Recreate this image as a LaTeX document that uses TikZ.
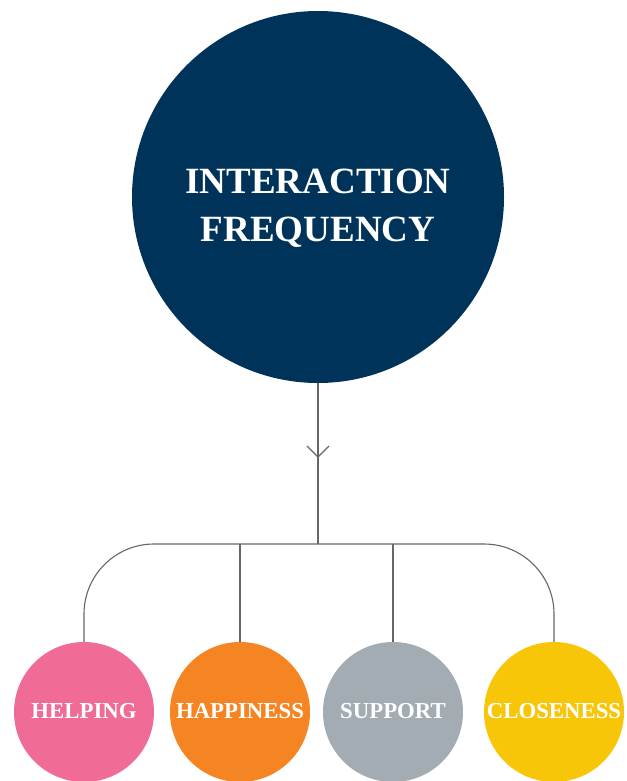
\documentclass[tikz,border=0pt]{standalone}
\usepackage{fontspec}
\setmainfont{Liberation Serif}
\definecolor{navy}{HTML}{003359}
\definecolor{pinkc}{HTML}{F06B95}
\definecolor{orangec}{HTML}{F58423}
\definecolor{grayc}{HTML}{A2ACB2}
\definecolor{yellowc}{HTML}{F8C608}
\definecolor{linec}{HTML}{666666}
\begin{document}
\begin{tikzpicture}[x=1pt,y=-1pt,
  bigc/.style={circle,fill=navy,minimum size=372pt,inner sep=0pt},
  smallc/.style={circle,minimum size=140pt,inner sep=0pt},
  smalltxt/.style={text=white,font=\fontsize{22.8}{26}\selectfont\bfseries,inner sep=0pt},
  conn/.style={draw=linec,line width=1.1pt}]
\useasboundingbox (0,0) rectangle (626,781);
\node[bigc] (big) at (318,197) {};
\node[text=white,font=\fontsize{37}{48}\selectfont\bfseries,align=center,inner sep=0pt] (bigt) at (318,208) {INTERACTION\\FREQUENCY};
\node[smallc,fill=pinkc] (help) at (84,712) {};
\node[smallc,fill=orangec] (happy) at (240,712) {};
\node[smallc,fill=grayc] (supp) at (393,712) {};
\node[smallc,fill=yellowc] (close) at (554,712) {};
\node[smalltxt] (helpt) at (84,711.5) {HELPING};
\node[smalltxt] (happyt) at (240,711.5) {HAPPINESS};
\node[smalltxt] (suppt) at (393,711.5) {SUPPORT};
\node[smalltxt] (closet) at (554,711.5) {CLOSENESS};
\coordinate (tip) at (318,457);
\coordinate (hub) at (318,544);
\coordinate (cl) at (84,544);
\coordinate (cr) at (554,544);
\draw[conn] (big.south) -- (tip) -- (hub);
\draw[conn] (tip) ++(-11,-11) -- (tip) -- ++(11,-11);
\draw[conn,rounded corners=70pt] (help.north) -- (cl) -- (cr) -- (close.north);
\draw[conn] (happy.north) -- (happy.north |- hub);
\draw[conn] (supp.north) -- (supp.north |- hub);
\end{tikzpicture}
\end{document}
